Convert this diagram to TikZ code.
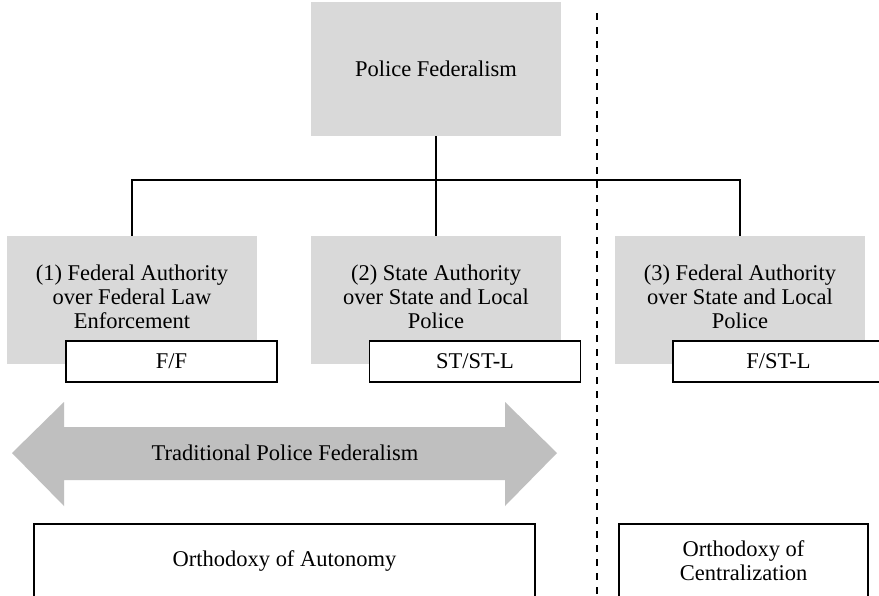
\documentclass[tikz,border=0pt]{standalone}
\usepackage{fontspec}
\setmainfont{Liberation Serif}
\definecolor{boxgray}{HTML}{D9D9D9}
\definecolor{arrowgray}{HTML}{BFBFBF}
\begin{document}
\begin{tikzpicture}[x=1pt,y=-1pt,
  txt/.style={font=\fontsize{22.5}{24}\selectfont, align=center},
  graybox/.style={txt, fill=boxgray, minimum width=250pt, minimum height=128pt, inner sep=0pt},
  codebox/.style={txt, draw=black, line width=1.6pt, fill=white, minimum width=211pt, minimum height=41pt, inner sep=0pt},
  orthobox/.style={txt, draw=black, line width=1.4pt, fill=white, minimum height=74pt, inner sep=0pt},
  conn/.style={line width=1.6pt, black},
  sep/.style={line width=1.8pt, black, dash pattern=on 7pt off 7pt}
]
\clip (0,0) rectangle (879,595);
\fill[white] (0,0) rectangle (879,595);

% top box
\node[graybox, minimum height=134pt] (top) at (436,69) {Police Federalism};

% level boxes
\node[graybox] (b1) at (132,300) {};
\node[txt] (t1) at (132,297) {(1) Federal Authority\\over Federal Law\\Enforcement};
\node[graybox] (b2) at (436,300) {};
\node[txt] (t2) at (436,297) {(2) State Authority\\over State and Local\\Police};
\node[graybox] (b3) at (740,300) {};
\node[txt] (t3) at (740,297) {(3) Federal Authority\\over State and Local\\Police};

% code boxes
\node[codebox] (c1) at (171.5,361.5) {F/F};
\node[codebox] (c2) at (475,361.5) {ST/ST-L};
\node[codebox] (c3) at (778.5,361.5) {F/ST-L};

% connectors
\coordinate (j) at (436,180);
\draw[conn] (top.south) -- (j);
\draw[conn] (b1.north) |- (j) -| (b3.north);
\draw[conn] (j) -- (b2.north);

% dashed separator
\coordinate (s1) at (597,13);
\coordinate (s2) at (597,600);
\draw[sep] (s1) -- (s2);

% double arrow
\fill[arrowgray] (12,453) -- (64,402) -- (64,427) -- (505,427) -- (505,402)
  -- (557,453) -- (505,506) -- (505,480) -- (64,480) -- (64,506) -- cycle;
\node[txt] (arr) at (285,453) {Traditional Police Federalism};

% orthodoxy boxes
\node[orthobox, minimum width=501pt] (o1) at (284.5,561) {Orthodoxy of Autonomy};
\node[orthobox, minimum width=249pt] (o2) at (743.5,561) {Orthodoxy of\\Centralization};
\end{tikzpicture}
\end{document}
